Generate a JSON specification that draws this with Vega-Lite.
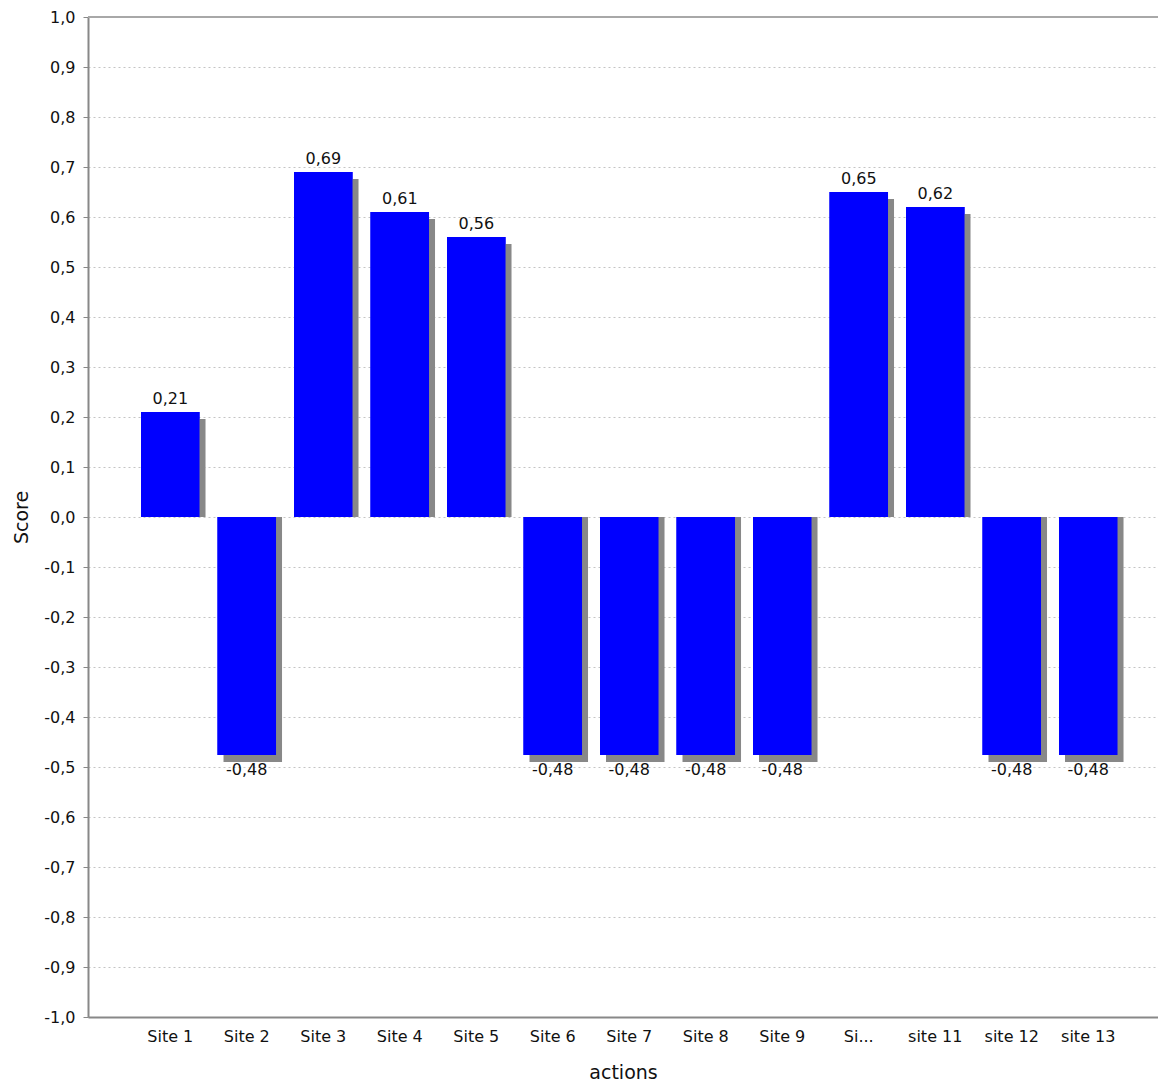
{
  "$schema": "https://vega.github.io/schema/vega-lite/v6.json",
  "width": 1070,
  "height": 1000,
  "autosize": {"type": "none"},
  "padding": {"left": 88, "top": 17, "right": 0, "bottom": 67},
  "background": "white",
  "config": {
    "locale": {"number": {"decimal": ",", "thousands": ".", "grouping": [3], "currency": ["", ""], "minus": "-"}},
    "view": {"stroke": null},
    "font": "DejaVu Sans"
  },
  "data": {
    "values": [
      {"site": "Site 1", "value": 0.21},
      {"site": "Site 2", "value": -0.476},
      {"site": "Site 3", "value": 0.69},
      {"site": "Site 4", "value": 0.61},
      {"site": "Site 5", "value": 0.56},
      {"site": "Site 6", "value": -0.476},
      {"site": "Site 7", "value": -0.476},
      {"site": "Site 8", "value": -0.476},
      {"site": "Site 9", "value": -0.476},
      {"site": "Site 10", "value": 0.65},
      {"site": "site 11", "value": 0.62},
      {"site": "site 12", "value": -0.476},
      {"site": "site 13", "value": -0.476}
    ]
  },
  "layer": [
    {
      "mark": {"type": "bar", "color": "#0000ff"},
      "encoding": {
        "x": {
          "field": "site", "type": "nominal", "sort": null,
          "scale": {"paddingInner": 0.235, "paddingOuter": 0.611, "align": 0.567},
          "axis": {
            "title": "actions", "labelAngle": 0, "ticks": false,
            "domainColor": "#888888", "domainWidth": 2,
            "labelFont": "DejaVu Sans", "labelFontSize": 16, "labelColor": "#111111", "labelPadding": 11,
            "titleFont": "DejaVu Sans", "titleFontSize": 19, "titleFontWeight": "normal", "titleColor": "#111111", "titlePadding": 19,
            "labelExpr": "datum.value == 'Site 10' ? 'Si...' : datum.value"
          }
        },
        "y": {
          "field": "value", "type": "quantitative",
          "scale": {"domain": [-1, 1], "nice": false},
          "axis": {
            "title": "Score",
            "values": [-1, -0.9, -0.8, -0.7, -0.6, -0.5, -0.4, -0.3, -0.2, -0.1, 0, 0.1, 0.2, 0.3, 0.4, 0.5, 0.6, 0.7, 0.8, 0.9, 1],
            "format": ".1f",
            "grid": true, "gridDash": [2, 3], "gridColor": "#c4c4c4",
            "domainColor": "#888888", "domainWidth": 2,
            "tickColor": "#888888", "tickSize": 5,
            "labelFont": "DejaVu Sans", "labelFontSize": 16, "labelColor": "#111111", "labelPadding": 8,
            "titleFont": "DejaVu Sans", "titleFontSize": 19, "titleFontWeight": "normal", "titleColor": "#111111", "titlePadding": 12
          }
        }
      }
    },
    {
      "mark": {"type": "rule", "color": "#a8a8a8", "strokeWidth": 1.5},
      "encoding": {"y": {"datum": 1, "type": "quantitative"}}
    },
    {
      "mark": {"type": "bar", "color": "#888888", "xOffset": 6, "yOffset": 7, "y2Offset": 0},
      "encoding": {
        "x": {"field": "site", "type": "nominal", "sort": null},
        "y": {"field": "value", "type": "quantitative"},
        "y2": {"datum": 0}
      }
    },
    {
      "mark": {"type": "bar", "color": "#0000ff"},
      "encoding": {
        "x": {"field": "site", "type": "nominal", "sort": null},
        "y": {"field": "value", "type": "quantitative"}
      }
    },
    {
      "transform": [{"filter": "datum.value >= 0"}],
      "mark": {"type": "text", "font": "DejaVu Sans", "fontSize": 16, "color": "#111111", "align": "center", "baseline": "alphabetic", "dy": -8},
      "encoding": {
        "x": {"field": "site", "type": "nominal", "sort": null},
        "y": {"field": "value", "type": "quantitative"},
        "text": {"field": "value", "type": "quantitative", "format": ".2f"}
      }
    },
    {
      "transform": [{"filter": "datum.value < 0"}],
      "mark": {"type": "text", "font": "DejaVu Sans", "fontSize": 16, "color": "#111111", "align": "center", "baseline": "alphabetic", "dy": 20},
      "encoding": {
        "x": {"field": "site", "type": "nominal", "sort": null},
        "y": {"field": "value", "type": "quantitative"},
        "text": {"field": "value", "type": "quantitative", "format": ".2f"}
      }
    }
  ]
}
